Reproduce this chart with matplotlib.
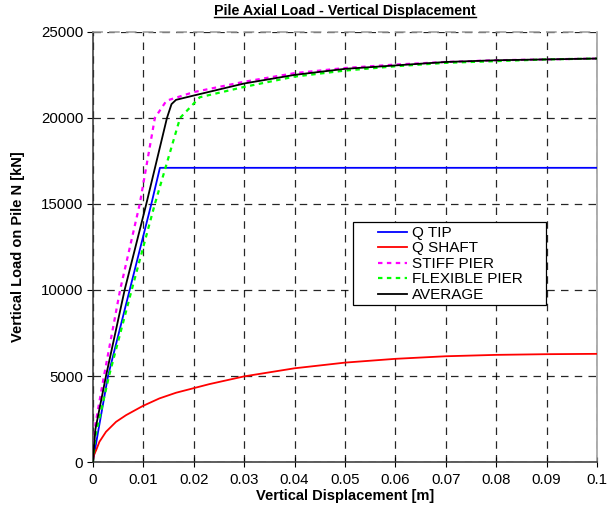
import matplotlib
matplotlib.use("Agg")
import matplotlib.pyplot as plt
from matplotlib.lines import Line2D
from matplotlib.patches import Rectangle

plt.rcParams['font.family'] = ['Liberation Sans', 'DejaVu Sans']

# Q TIP
tip_x = [0, 0.001, 0.003, 0.0073, 0.0116, 0.0133, 0.02, 0.05, 0.1]
tip_y = [0, 1700, 5000, 10000, 15000, 17100, 17100, 17100, 17100]
# Q SHAFT
shaft_x = [0, 0.0002, 0.00066, 0.0013, 0.0026, 0.0046, 0.0066, 0.0099, 0.0132, 0.0165,
           0.0198, 0.0231, 0.03, 0.04, 0.05, 0.06, 0.07, 0.08, 0.09, 0.1]
shaft_y = [0, 400, 700, 1180, 1760, 2340, 2730, 3260, 3700, 4030,
           4280, 4530, 4980, 5450, 5780, 6000, 6150, 6230, 6270, 6290]
# STIFF PIER
stiff_x = [0, 0.0005, 0.0022, 0.0054, 0.0093, 0.0123, 0.0146, 0.02, 0.03, 0.04,
           0.05, 0.06, 0.07, 0.08, 0.09, 0.1]
stiff_y = [0, 2200, 5000, 10000, 15000, 20000, 21000, 21500, 22100, 22600,
           22900, 23100, 23250, 23350, 23400, 23450]
# FLEXIBLE PIER
flex_x = [0, 0.0005, 0.0032, 0.0077, 0.0123, 0.0173, 0.0212, 0.03, 0.04,
          0.05, 0.06, 0.07, 0.08, 0.09, 0.1]
flex_y = [0, 1500, 5000, 10000, 15000, 20000, 21200, 21800, 22400,
          22750, 23000, 23200, 23300, 23400, 23450]
# AVERAGE
avg_x = [0, 0.0005, 0.0026, 0.0063, 0.0106, 0.0147, 0.0156, 0.0165, 0.02, 0.03, 0.04,
         0.05, 0.06, 0.07, 0.08, 0.09, 0.1]
avg_y = [0, 1900, 5000, 10000, 15000, 20000, 20800, 21050, 21300, 22000, 22500,
         22850, 23050, 23250, 23350, 23400, 23450]

xticks = [0, 0.01, 0.02, 0.03, 0.04, 0.05, 0.06, 0.07, 0.08, 0.09, 0.1]
xticklabels = ['0', '0.01', '0.02', '0.03', '0.04', '0.05', '0.06', '0.07', '0.08', '0.09', '0.1']
yticks = [0, 5000, 10000, 15000, 20000, 25000]

fig = plt.figure(figsize=(6.11, 5.14), dpi=100)
ax = fig.add_axes([0.152, 0.101, 0.825, 0.837])

ax.plot(tip_x, tip_y, color='#0000ff', lw=1.3, label='Q TIP', zorder=3)
ax.plot(shaft_x, shaft_y, color='#ff0000', lw=1.3, label='Q SHAFT', zorder=3)
ax.plot(stiff_x, stiff_y, color='#ff00ff', lw=1.6, linestyle=(0, (2, 2)), label='STIFF PIER', zorder=3)
ax.plot(flex_x, flex_y, color='#00ff00', lw=1.6, linestyle=(0, (2, 2)), label='FLEXIBLE PIER', zorder=3)
ax.plot(avg_x, avg_y, color='black', lw=1.3, label='AVERAGE', zorder=4)

ax.set_xlim(0, 0.1)
ax.set_ylim(0, 25000)
ax.set_xticks(xticks)
ax.set_xticklabels(xticklabels)
ax.set_yticks(yticks)
ax.grid(True, color='black', linestyle=(0, (6, 5)), lw=0.9, alpha=0.85)

ax.tick_params(axis='x', direction='inout', length=7, labelsize=10.8, pad=4)
ax.tick_params(axis='y', direction='out', length=4, labelsize=10.8, pad=3)

for s in ['left', 'bottom']:
    ax.spines[s].set_color('#333333')
    ax.spines[s].set_linewidth(1.1)
for s in ['top', 'right']:
    ax.spines[s].set_color('#999999')
    ax.spines[s].set_linewidth(1.1)
ax.spines['top'].set_linestyle((0, (6, 5)))

ax.set_xlabel('Vertical Displacement [m]', fontsize=10.5, fontweight='bold', labelpad=2)
ax.set_ylabel('Vertical Load on Pile N [kN]', fontsize=10.5, fontweight='bold', labelpad=11)

t = ax.set_title('Pile Axial Load - Vertical Displacement', fontsize=10.3, fontweight='bold', pad=12)

# legend frame drawn as a rectangle in axes coordinates
ax.add_patch(Rectangle((0.516, 0.365), 0.383, 0.193, transform=ax.transAxes,
                       facecolor='white', edgecolor='black', lw=0.9, zorder=5))
leg = ax.legend(loc='upper left', bbox_to_anchor=(0.565, 0.549), fontsize=11,
                frameon=False, handlelength=1.9, handletextpad=0.35,
                borderpad=0, labelspacing=0.1, borderaxespad=0)
leg.set_zorder(6)

fig.canvas.draw()
r = fig.canvas.get_renderer()
bb = t.get_window_extent(renderer=r)
inv = fig.transFigure.inverted()
(x0, y0), (x1, y1) = inv.transform([(bb.x0, bb.y0), (bb.x1, bb.y1)])
fig.add_artist(Line2D([x0, x1], [y0 + 0.002, y0 + 0.002], color='black', lw=1.0,
                      transform=fig.transFigure))

fig.savefig('out.png', dpi=100)
